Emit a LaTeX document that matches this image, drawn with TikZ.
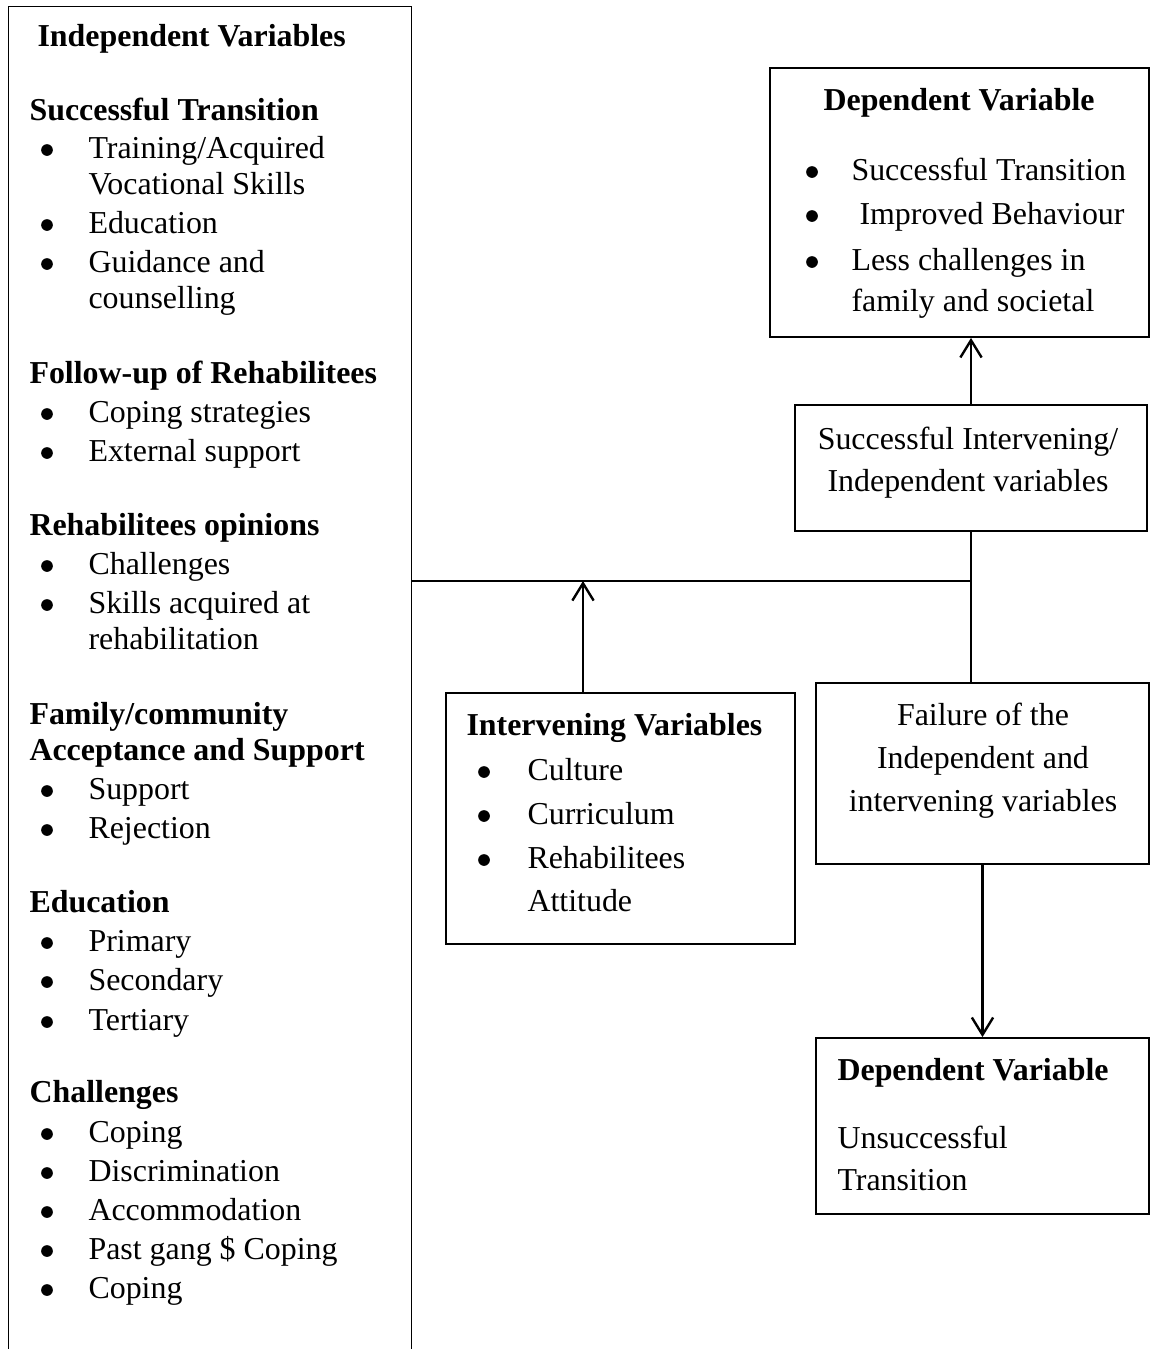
\documentclass[tikz,border=0pt]{standalone}
\usepackage{fontspec}
\setmainfont{Liberation Serif}
\usetikzlibrary{fit,arrows.meta}

\tikzset{
    box/.style={draw, line width=0.7pt, inner sep=0pt},
    txt/.style={anchor=base west, inner sep=0pt},
    ctxt/.style={anchor=base, inner sep=0pt},
    hd/.style={txt, font=\fontsize{12}{14}\selectfont\bfseries},
    dot/.style={circle, fill, inner sep=0pt, minimum size=4.4pt},
    link/.style={line width=0.8pt},
    arr/.style={line width=0.9pt, -{Straight Barb[length=6.5pt, width=8pt]}},
}

\begin{document}
\begin{tikzpicture}[x=0.376pt, y=-0.376pt, font=\fontsize{12}{14}\selectfont]
    \useasboundingbox (0,0) rectangle (1150,1349);

    % left column
    \node[inner sep=0pt, fit={(9,7) (411,1349)}] (indep) {};
    \draw[line width=0.7pt] (indep.south west) -- (indep.north west) -- (indep.north east) -- (indep.south east);

    \node[hd] (indtitle) at (37, 46) {Independent Variables};

    \node[hd] (succhd) at (29, 120) {Successful Transition};
    \node[dot] (d1) at (47, 150) {};
    \node[txt] (train) at (88, 158) {Training/Acquired};
    \node[txt] (voc) at (88, 194) {Vocational Skills};
    \node[dot] (d2) at (47, 225) {};
    \node[txt] (educ) at (88, 233) {Education};
    \node[dot] (d3) at (47, 264) {};
    \node[txt] (guid) at (88, 272) {Guidance and};
    \node[txt] (couns) at (88, 308) {counselling};

    \node[hd] (follhd) at (29, 383) {Follow-up of Rehabilitees};
    \node[dot] (d4) at (47, 414) {};
    \node[txt] (copstr) at (88, 422) {Coping strategies};
    \node[dot] (d5) at (47, 453) {};
    \node[txt] (extsup) at (88, 461) {External support};

    \node[hd] (opinhd) at (29, 535) {Rehabilitees opinions};
    \node[dot] (d6) at (47, 566) {};
    \node[txt] (chall) at (88, 574) {Challenges};
    \node[dot] (d7) at (47, 605) {};
    \node[txt] (skills) at (88, 613) {Skills acquired at};
    \node[txt] (rehab) at (88, 649) {rehabilitation};

    \node[hd] (famhd) at (29, 724) {Family/community};
    \node[hd] (acchd) at (29, 760) {Acceptance and Support};
    \node[dot] (d8) at (47, 791) {};
    \node[txt] (supp) at (88, 799) {Support};
    \node[dot] (d9) at (47, 830) {};
    \node[txt] (rej) at (88, 838) {Rejection};

    \node[hd] (eduhd) at (29, 912) {Education};
    \node[dot] (d10) at (47, 943) {};
    \node[txt] (prim) at (88, 951) {Primary};
    \node[dot] (d11) at (47, 982) {};
    \node[txt] (sec) at (88, 990) {Secondary};
    \node[dot] (d12) at (47, 1022) {};
    \node[txt] (tert) at (88, 1030) {Tertiary};

    \node[hd] (challhd) at (29, 1102) {Challenges};
    \node[dot] (d13) at (47, 1134) {};
    \node[txt] (cop1) at (88, 1142) {Coping};
    \node[dot] (d14) at (47, 1173) {};
    \node[txt] (discr) at (88, 1181) {Discrimination};
    \node[dot] (d15) at (47, 1212) {};
    \node[txt] (accom) at (88, 1220) {Accommodation};
    \node[dot] (d16) at (47, 1251) {};
    \node[txt] (gang) at (88, 1259) {Past gang \$ Coping};
    \node[dot] (d17) at (47, 1290) {};
    \node[txt] (cop2) at (88, 1298) {Coping};

    % dependent variable (success)
    \node[box, fit={(770,68) (1149,337)}] (dep1) {};
    \node[hd] (dep1hd) at (823, 110) {Dependent Variable};
    \node[dot] (e1) at (812, 172) {};
    \node[txt] (succtr) at (851, 180) {Successful Transition};
    \node[dot] (e2) at (812, 216) {};
    \node[txt] (impr) at (859, 224) {Improved Behaviour};
    \node[dot] (e3) at (812, 262) {};
    \node[txt] (less) at (851, 270) {Less challenges in};
    \node[txt] (fam) at (851, 311) {family and societal};

    % successful intervening
    \node[box, fit={(795,405) (1147,531)}] (succ) {};
    \node[ctxt] (succl1) at (968, 449) {Successful Intervening/};
    \node[ctxt] (succl2) at (968, 491) {Independent variables};

    % intervening variables
    \node[box, fit={(446,693) (795,944)}] (interv) {};
    \node[hd] (intervhd) at (466, 735) {Intervening Variables};
    \node[dot] (f1) at (484, 772) {};
    \node[txt] (cult) at (527, 780) {Culture};
    \node[dot] (f2) at (484, 816) {};
    \node[txt] (curr) at (527, 824) {Curriculum};
    \node[dot] (f3) at (484, 860) {};
    \node[txt] (reh) at (527, 868) {Rehabilitees};
    \node[txt] (att) at (527, 911) {Attitude};

    % failure
    \node[box, fit={(816,683) (1149,864)}] (fail) {};
    \node[ctxt] (faill1) at (983, 725) {Failure of the};
    \node[ctxt] (faill2) at (983, 768) {Independent and};
    \node[ctxt] (faill3) at (983, 811) {intervening variables};

    % dependent variable (failure)
    \node[box, fit={(816,1038) (1149,1214)}] (dep2) {};
    \node[hd] (dep2hd) at (837, 1080) {Dependent Variable};
    \node[txt] (unsucc) at (837, 1148) {Unsuccessful};
    \node[txt] (trans) at (837, 1190) {Transition};

    % connectors
    \coordinate (lvl) at (0, 581);
    \coordinate (ivx) at (583, 0);
    \coordinate (join) at (succ.south |- lvl);
    \draw[arr] (succ.north) -- (succ.north |- dep1.south);
    \draw[link] (succ.south) -- (succ.south |- fail.north);
    \draw[link] (indep.east |- join) -- (join);
    \draw[arr] (interv.north -| ivx) -- (join -| ivx);
    \draw[arr] (fail.south) -- (dep2.north);
\end{tikzpicture}
\end{document}
